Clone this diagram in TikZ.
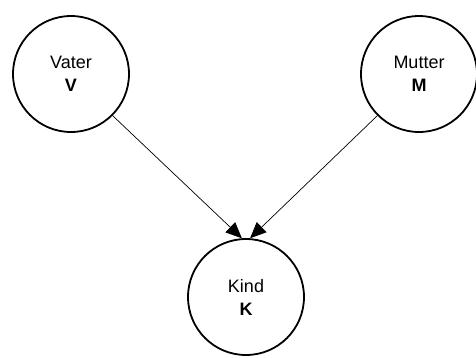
\documentclass[tikz,border=0pt]{standalone}
\usepackage{fontspec}
\setmainfont{Liberation Sans}
\usetikzlibrary{arrows.meta}

\begin{document}
\begin{tikzpicture}[x=1pt,y=-1pt,font=\fontsize{18}{23}\selectfont]
    \tikzstyle{person}=[circle,draw,line width=1.8pt,minimum size=116pt,inner sep=0pt,align=center]
    \tikzstyle{link}=[-{Triangle[length=16pt,width=14pt]},line width=0.7pt]
    \useasboundingbox (0,0) rectangle (476,357);
    \path
    % Eltern
    (71,74)   node[person] (vater)  {Vater\\\textbf{V}}
    (419,74)  node[person] (mutter) {Mutter\\\textbf{M}}

    % Kind
    (246,297) node[person] (kind)   {Kind\\\textbf{K}};

    % Kanten
    \draw[link] (vater.-45)  -- (kind.94);
    \draw[link] (mutter.-135) -- (kind.86);
\end{tikzpicture}
\end{document}
